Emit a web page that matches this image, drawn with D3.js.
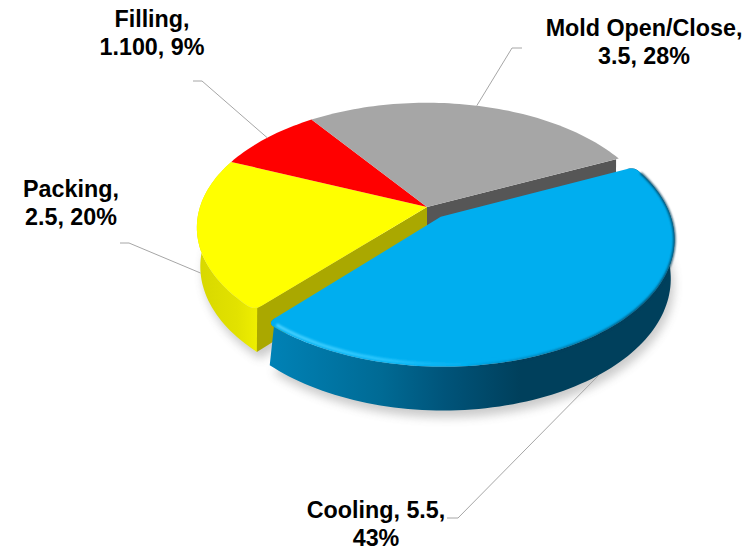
<!DOCTYPE html>
<html>
<head>
<meta charset="utf-8">
<script src="https://d3js.org/d3.v7.min.js"></script>
<style>
  html, body { margin: 0; padding: 0; background: #fff; }
  svg { display: block; }
  text { font-family: "Liberation Sans", Arial, sans-serif; font-weight: bold; font-size: 23.3px; fill: #000; text-anchor: middle; }
</style>
</head>
<body>
<div id="plot"></div>
<script>
const categories = ['Filling', 'Mold Open/Close', 'Cooling', 'Packing'];
const values = [1.1, 3.5, 5.5, 2.5];
const percents = [9, 28, 43, 20];
const valueLabels = ['1.100', '3.5', '5.5', '2.5'];
const explode = [0, 0, 0.1, 0];
const colors = ['#ff0000', '#a6a6a6', '#00aeef', '#ffff00'];
const wallColors = ['#990000', '#565656', '#00506f', '#aaa800'];

const width = 750;
const height = 547;

// pie plane -> screen, with a bit of perspective so the front looks bigger
const cx = 427, cy = 207, R = 227, squash = 0.535, persp = 0.165, depth = 38;

function project(a, r, ex, mid, z) {
  const x = r * Math.sin(a) + ex * Math.sin(mid);
  const y = -r * Math.cos(a) - ex * Math.cos(mid);
  const den = 1 - persp * y;
  const s = 1 - 0.015 * z;
  return [cx + R * x / den * s, cy + R * squash * y / den * s + z * depth / den];
}

const rad = (deg) => deg * Math.PI / 180;

const pie = d3.pie().sort(null).value((d) => d)
  .startAngle(rad(293.3)).endAngle(rad(293.3 + 360));

const slices = pie(values).map((d, i) => ({
  ...d,
  i: i,
  mid: (d.startAngle + d.endAngle) / 2,
  ex: explode[i]
}));

const line = d3.line();

// outer rim of a slice, corners optionally rounded
function rim(d, z, roundStart, roundEnd) {
  const delta = rad(2.2), inner = 0.962;
  const a0 = d.startAngle + (roundStart ? delta : 0);
  const a1 = d.endAngle - (roundEnd ? delta : 0);
  const pts = [];
  const p = (a, r) => project(a, r, d.ex, d.mid, z);
  const corner = (aEdge, aArc, out) => {
    d3.range(0, 1.01, 0.2).forEach((t) => {
      const u = out ? t : 1 - t;
      const e = p(aEdge, inner), c = p(aEdge, 1), q = p(aArc, 1);
      pts.push([
        (1 - u) * (1 - u) * e[0] + 2 * u * (1 - u) * c[0] + u * u * q[0],
        (1 - u) * (1 - u) * e[1] + 2 * u * (1 - u) * c[1] + u * u * q[1]
      ]);
    });
  };
  if (roundStart) corner(d.startAngle, a0, true);
  const n = Math.ceil((a1 - a0) / rad(1.5));
  d3.range(n + 1).forEach((k) => pts.push(p(a0 + (a1 - a0) * k / n, 1)));
  if (roundEnd) corner(d.endAngle, a1, false);
  return pts;
}

const svg = d3.select('#plot').append('svg')
  .attr('width', width)
  .attr('height', height)
  .attr('viewBox', `0 0 ${width} ${height}`);

const defs = svg.append('defs');
[['soft', 5], ['edge', 0.9]].forEach(([id, sd]) => {
  defs.append('filter').attr('id', id)
    .attr('filterUnits', 'userSpaceOnUse')
    .attr('x', 0).attr('y', 0).attr('width', width).attr('height', height)
    .append('feGaussianBlur').attr('stdDeviation', sd);
});

function gradient(id, x1, x2, stops) {
  const g = defs.append('linearGradient').attr('id', id)
    .attr('gradientUnits', 'userSpaceOnUse')
    .attr('x1', x1).attr('x2', x2).attr('y1', 0).attr('y2', 0);
  stops.forEach(([o, c, op]) => {
    g.append('stop').attr('offset', o).attr('stop-color', c)
      .attr('stop-opacity', op === undefined ? 1 : op);
  });
}
gradient('blueSide', 270, 520, [[0, '#0082b6'], [0.45, '#006a94'], [0.7, '#00547a'], [1, '#00405c']]);
gradient('yellowSide', 200, 262, [[0, '#d8d800'], [0.6, '#e2e200'], [1, '#f2f200']]);
gradient('blueBevel', 270, 500, [[0, '#4fd4ff', 1], [0.55, '#2cc8ff', 0.9], [1, '#00aeef', 0]]);
gradient('blueShade', 440, 640, [[0, '#003f5c', 0], [1, '#003f5c', 1]]);

const filling = slices[0], moldSlice = slices[1], cooling = slices[2], packing = slices[3];

// soft shadow under the whole pie
const shadowG = svg.append('g').attr('filter', 'url(#soft)').attr('opacity', 0.3)
  .attr('transform', 'translate(3,7)');
[packing, cooling].forEach((d) => {
  shadowG.append('path')
    .attr('d', line([project(0, 0, d.ex, d.mid, 1), ...rim(d, 1, false, false)]) + 'Z')
    .attr('fill', '#555');
});

function band(d, roundStart, roundEnd) {
  const top = rim(d, 0, roundStart, roundEnd);
  const bottom = rim(d, 1, false, false).reverse();
  return line([...top, ...bottom]) + 'Z';
}

function wall(d, a) {
  const tip0 = project(0, 0, d.ex, d.mid, 0);
  const tip1 = project(0, 0, d.ex, d.mid, 1);
  const out0 = project(a, 0.985, d.ex, d.mid, 0);
  const out1 = project(a, 1, d.ex, d.mid, 1);
  return line([tip0, out0, out1, tip1]) + 'Z';
}

function face(d, roundStart, roundEnd) {
  return line([project(0, 0, d.ex, d.mid, 0), ...rim(d, 0, roundStart, roundEnd)]) + 'Z';
}

// back slices first, then the pulled out one on top
svg.append('path').attr('d', wall(moldSlice, moldSlice.endAngle)).attr('fill', wallColors[1]);
svg.append('path').attr('d', band(packing, true, false)).attr('fill', 'url(#yellowSide)');
svg.append('path').attr('d', wall(packing, packing.startAngle)).attr('fill', wallColors[3]);
svg.append('path').attr('d', face(packing, true, false)).attr('fill', colors[3]);
svg.append('path').attr('d', face(filling, false, false)).attr('fill', colors[0]);
svg.append('path').attr('d', face(moldSlice, false, false)).attr('fill', colors[1]);

svg.append('path').attr('d', band(cooling, true, true)).attr('fill', 'url(#blueSide)');
svg.append('path').attr('d', face(cooling, true, true)).attr('fill', colors[2]);

// rim highlights on the blue slice, its angles run past a full turn
function arcLine(a0, a1, r, d) {
  return line(d3.range(0, 1.001, 0.02).map((t) => project(a0 + (a1 - a0) * t, r, d.ex, d.mid, 0)));
}
svg.append('path')
  .attr('d', arcLine(cooling.endAngle - rad(2), rad(360 + 135), 0.985, cooling))
  .attr('fill', 'none')
  .attr('stroke', 'url(#blueBevel)')
  .attr('stroke-width', 3)
  .attr('filter', 'url(#edge)');
svg.append('path')
  .attr('d', arcLine(rad(360 + 175), rad(360 + 68), 1, cooling))
  .attr('fill', 'none')
  .attr('stroke', 'url(#blueShade)')
  .attr('stroke-width', 2)
  .attr('filter', 'url(#edge)');

// leader lines and labels
const labelX = [152, 644, 376, 71];
const labelY = [27, 36, 518, 197];
const elbowStart = [[193, 81], [522, 48], [447, 518], [120, 243]];
const elbowMid = [[202, 81], [512, 48], [458, 518], [129, 243]];
const leaderDepth = [0, 0, 1, 1];
const labelLines = [
  (i) => [`${categories[i]},`, `${valueLabels[i]}, ${percents[i]}%`],
  (i) => [`${categories[i]},`, `${valueLabels[i]}, ${percents[i]}%`],
  (i) => [`${categories[i]}, ${valueLabels[i]},`, `${percents[i]}%`],
  (i) => [`${categories[i]},`, `${valueLabels[i]}, ${percents[i]}%`]
];

slices.forEach((d, i) => {
  const end = project(d.mid, 1, d.ex, d.mid, leaderDepth[i]);
  svg.append('path')
    .attr('d', line([elbowStart[i], elbowMid[i], end]))
    .attr('fill', 'none')
    .attr('stroke', '#a6a6a6')
    .attr('stroke-width', 1);
  labelLines[i](i).forEach((t, k) => {
    svg.append('text')
      .attr('x', labelX[i])
      .attr('y', labelY[i] + k * 27.5)
      .text(t);
  });
});
</script>
</body>
</html>
